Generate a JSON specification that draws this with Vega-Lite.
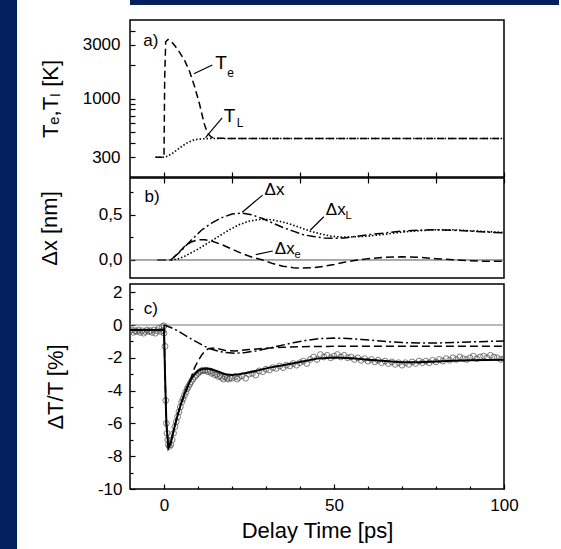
{
  "$schema": "https://vega.github.io/schema/vega-lite/v6.json",
  "background": "white",
  "padding": 0,
  "config": {
    "font": "Liberation Sans",
    "view": {"stroke": "black", "strokeWidth": 1.5},
    "axis": {"domain": false, "grid": false, "tickColor": "black", "tickWidth": 1.2, "labelFlush": false, "labelFont": "Liberation Sans", "labelFontSize": 17, "labelColor": "black", "titleFont": "Liberation Sans", "titleFontSize": 22, "titleFontWeight": "normal", "titleColor": "black"},
    "text": {"font": "Liberation Sans", "color": "black"}
  },
  "datasets": {
    "temp": [
      {"s": "Te", "t": -2.5, "v": 300}, {"s": "Te", "t": 0, "v": 300}, {"s": "Te", "t": 0.2, "v": 1500}, {"s": "Te", "t": 0.5, "v": 3200}, {"s": "Te", "t": 1.2, "v": 3350}, {"s": "Te", "t": 2.2, "v": 3200}, {"s": "Te", "t": 3.2, "v": 2950}, {"s": "Te", "t": 4.5, "v": 2600}, {"s": "Te", "t": 6, "v": 2200}, {"s": "Te", "t": 7.5, "v": 1750}, {"s": "Te", "t": 9, "v": 1280}, {"s": "Te", "t": 10.5, "v": 880}, {"s": "Te", "t": 11.8, "v": 600}, {"s": "Te", "t": 12.8, "v": 490}, {"s": "Te", "t": 14, "v": 452}, {"s": "Te", "t": 16, "v": 443}, {"s": "Te", "t": 20, "v": 440}, {"s": "Te", "t": 100, "v": 440},
      {"s": "TL", "t": -2.5, "v": 300}, {"s": "TL", "t": 0, "v": 300}, {"s": "TL", "t": 1, "v": 306}, {"s": "TL", "t": 2.5, "v": 325}, {"s": "TL", "t": 4, "v": 352}, {"s": "TL", "t": 5.5, "v": 380}, {"s": "TL", "t": 7, "v": 405}, {"s": "TL", "t": 8.5, "v": 424}, {"s": "TL", "t": 10, "v": 434}, {"s": "TL", "t": 12, "v": 439}, {"s": "TL", "t": 15, "v": 441}, {"s": "TL", "t": 100, "v": 440}
    ],
    "disp": [
      {"s": "dx", "t": -2, "v": 0}, {"s": "dx", "t": 2, "v": 0}, {"s": "dx", "t": 5, "v": 0.1}, {"s": "dx", "t": 8, "v": 0.22}, {"s": "dx", "t": 11, "v": 0.33}, {"s": "dx", "t": 14, "v": 0.41}, {"s": "dx", "t": 17, "v": 0.47}, {"s": "dx", "t": 20, "v": 0.51}, {"s": "dx", "t": 23, "v": 0.52}, {"s": "dx", "t": 26, "v": 0.5}, {"s": "dx", "t": 29, "v": 0.46}, {"s": "dx", "t": 32, "v": 0.41}, {"s": "dx", "t": 35, "v": 0.36}, {"s": "dx", "t": 38, "v": 0.32}, {"s": "dx", "t": 41, "v": 0.28}, {"s": "dx", "t": 44, "v": 0.26}, {"s": "dx", "t": 47, "v": 0.245}, {"s": "dx", "t": 50, "v": 0.24}, {"s": "dx", "t": 53, "v": 0.245}, {"s": "dx", "t": 56, "v": 0.26}, {"s": "dx", "t": 60, "v": 0.28}, {"s": "dx", "t": 65, "v": 0.3}, {"s": "dx", "t": 70, "v": 0.32}, {"s": "dx", "t": 75, "v": 0.33}, {"s": "dx", "t": 80, "v": 0.335}, {"s": "dx", "t": 85, "v": 0.33}, {"s": "dx", "t": 90, "v": 0.32}, {"s": "dx", "t": 95, "v": 0.31}, {"s": "dx", "t": 100, "v": 0.3},
      {"s": "dxL", "t": 2, "v": 0}, {"s": "dxL", "t": 4, "v": 0.01}, {"s": "dxL", "t": 6, "v": 0.04}, {"s": "dxL", "t": 8, "v": 0.08}, {"s": "dxL", "t": 10, "v": 0.12}, {"s": "dxL", "t": 13, "v": 0.19}, {"s": "dxL", "t": 16, "v": 0.26}, {"s": "dxL", "t": 19, "v": 0.33}, {"s": "dxL", "t": 22, "v": 0.39}, {"s": "dxL", "t": 25, "v": 0.43}, {"s": "dxL", "t": 28, "v": 0.45}, {"s": "dxL", "t": 31, "v": 0.45}, {"s": "dxL", "t": 34, "v": 0.43}, {"s": "dxL", "t": 37, "v": 0.4}, {"s": "dxL", "t": 40, "v": 0.36}, {"s": "dxL", "t": 43, "v": 0.32}, {"s": "dxL", "t": 46, "v": 0.29}, {"s": "dxL", "t": 49, "v": 0.265}, {"s": "dxL", "t": 52, "v": 0.255}, {"s": "dxL", "t": 55, "v": 0.255}, {"s": "dxL", "t": 60, "v": 0.265}, {"s": "dxL", "t": 65, "v": 0.285}, {"s": "dxL", "t": 70, "v": 0.31}, {"s": "dxL", "t": 75, "v": 0.325}, {"s": "dxL", "t": 80, "v": 0.335}, {"s": "dxL", "t": 85, "v": 0.335}, {"s": "dxL", "t": 90, "v": 0.325}, {"s": "dxL", "t": 95, "v": 0.315}, {"s": "dxL", "t": 100, "v": 0.305},
      {"s": "dxe", "t": 2, "v": 0}, {"s": "dxe", "t": 4, "v": 0.07}, {"s": "dxe", "t": 6, "v": 0.15}, {"s": "dxe", "t": 8, "v": 0.2}, {"s": "dxe", "t": 10, "v": 0.225}, {"s": "dxe", "t": 12, "v": 0.225}, {"s": "dxe", "t": 14, "v": 0.21}, {"s": "dxe", "t": 17, "v": 0.17}, {"s": "dxe", "t": 20, "v": 0.12}, {"s": "dxe", "t": 23, "v": 0.07}, {"s": "dxe", "t": 26, "v": 0.03}, {"s": "dxe", "t": 29, "v": 0}, {"s": "dxe", "t": 32, "v": -0.04}, {"s": "dxe", "t": 35, "v": -0.07}, {"s": "dxe", "t": 38, "v": -0.085}, {"s": "dxe", "t": 41, "v": -0.09}, {"s": "dxe", "t": 44, "v": -0.085}, {"s": "dxe", "t": 47, "v": -0.07}, {"s": "dxe", "t": 50, "v": -0.05}, {"s": "dxe", "t": 53, "v": -0.025}, {"s": "dxe", "t": 56, "v": -0.005}, {"s": "dxe", "t": 60, "v": 0.015}, {"s": "dxe", "t": 65, "v": 0.03}, {"s": "dxe", "t": 70, "v": 0.035}, {"s": "dxe", "t": 75, "v": 0.03}, {"s": "dxe", "t": 80, "v": 0.015}, {"s": "dxe", "t": 85, "v": 0.003}, {"s": "dxe", "t": 90, "v": -0.008}, {"s": "dxe", "t": 95, "v": -0.015}, {"s": "dxe", "t": 100, "v": -0.015}
    ],
    "model": [
      {"s": "fit", "t": -10, "v": -0.3}, {"s": "fit", "t": 0, "v": -0.3}, {"s": "fit", "t": 0.3, "v": -3}, {"s": "fit", "t": 0.7, "v": -6}, {"s": "fit", "t": 1.3, "v": -7.5}, {"s": "fit", "t": 2, "v": -7.2}, {"s": "fit", "t": 3, "v": -6.3}, {"s": "fit", "t": 4, "v": -5.5}, {"s": "fit", "t": 5, "v": -4.8}, {"s": "fit", "t": 6, "v": -4.2}, {"s": "fit", "t": 7, "v": -3.7}, {"s": "fit", "t": 8, "v": -3.3}, {"s": "fit", "t": 9, "v": -3.0}, {"s": "fit", "t": 10, "v": -2.8}, {"s": "fit", "t": 11, "v": -2.7}, {"s": "fit", "t": 12.5, "v": -2.65}, {"s": "fit", "t": 14, "v": -2.7}, {"s": "fit", "t": 16, "v": -2.85}, {"s": "fit", "t": 18, "v": -3.0}, {"s": "fit", "t": 20, "v": -3.05}, {"s": "fit", "t": 22, "v": -3.0}, {"s": "fit", "t": 25, "v": -2.9}, {"s": "fit", "t": 28, "v": -2.75}, {"s": "fit", "t": 31, "v": -2.6}, {"s": "fit", "t": 35, "v": -2.45}, {"s": "fit", "t": 40, "v": -2.25}, {"s": "fit", "t": 45, "v": -2.05}, {"s": "fit", "t": 50, "v": -1.98}, {"s": "fit", "t": 55, "v": -2.02}, {"s": "fit", "t": 60, "v": -2.12}, {"s": "fit", "t": 65, "v": -2.2}, {"s": "fit", "t": 70, "v": -2.27}, {"s": "fit", "t": 75, "v": -2.27}, {"s": "fit", "t": 80, "v": -2.22}, {"s": "fit", "t": 85, "v": -2.18}, {"s": "fit", "t": 90, "v": -2.15}, {"s": "fit", "t": 95, "v": -2.13}, {"s": "fit", "t": 100, "v": -2.12},
      {"s": "e", "t": 0, "v": 0}, {"s": "e", "t": 0.3, "v": -3}, {"s": "e", "t": 0.7, "v": -6}, {"s": "e", "t": 1.3, "v": -7.45}, {"s": "e", "t": 2, "v": -7.15}, {"s": "e", "t": 3, "v": -6.3}, {"s": "e", "t": 4, "v": -5.5}, {"s": "e", "t": 5, "v": -4.8}, {"s": "e", "t": 6, "v": -4.3}, {"s": "e", "t": 7, "v": -3.8}, {"s": "e", "t": 8, "v": -3.2}, {"s": "e", "t": 9, "v": -2.6}, {"s": "e", "t": 10, "v": -2.2}, {"s": "e", "t": 11, "v": -1.85}, {"s": "e", "t": 12, "v": -1.6}, {"s": "e", "t": 13, "v": -1.45}, {"s": "e", "t": 15, "v": -1.4}, {"s": "e", "t": 18, "v": -1.55}, {"s": "e", "t": 21, "v": -1.58}, {"s": "e", "t": 25, "v": -1.5}, {"s": "e", "t": 30, "v": -1.42}, {"s": "e", "t": 35, "v": -1.36}, {"s": "e", "t": 40, "v": -1.32}, {"s": "e", "t": 50, "v": -1.3}, {"s": "e", "t": 60, "v": -1.3}, {"s": "e", "t": 100, "v": -1.3},
      {"s": "L", "t": 0, "v": 0}, {"s": "L", "t": 2, "v": -0.15}, {"s": "L", "t": 4, "v": -0.35}, {"s": "L", "t": 6, "v": -0.6}, {"s": "L", "t": 8, "v": -0.85}, {"s": "L", "t": 10, "v": -1.08}, {"s": "L", "t": 12, "v": -1.3}, {"s": "L", "t": 14, "v": -1.48}, {"s": "L", "t": 16, "v": -1.6}, {"s": "L", "t": 18, "v": -1.68}, {"s": "L", "t": 21, "v": -1.72}, {"s": "L", "t": 24, "v": -1.68}, {"s": "L", "t": 27, "v": -1.58}, {"s": "L", "t": 30, "v": -1.45}, {"s": "L", "t": 34, "v": -1.27}, {"s": "L", "t": 38, "v": -1.08}, {"s": "L", "t": 42, "v": -0.93}, {"s": "L", "t": 46, "v": -0.83}, {"s": "L", "t": 50, "v": -0.8}, {"s": "L", "t": 54, "v": -0.82}, {"s": "L", "t": 58, "v": -0.88}, {"s": "L", "t": 62, "v": -0.95}, {"s": "L", "t": 66, "v": -1.02}, {"s": "L", "t": 70, "v": -1.07}, {"s": "L", "t": 75, "v": -1.1}, {"s": "L", "t": 80, "v": -1.1}, {"s": "L", "t": 85, "v": -1.07}, {"s": "L", "t": 90, "v": -1.03}, {"s": "L", "t": 95, "v": -1.0}, {"s": "L", "t": 100, "v": -0.97}
    ],
    "meas": [
      {"t": -10, "v": -0.35}, {"t": -9.5, "v": -0.3}, {"t": -9, "v": -0.45}, {"t": -8.5, "v": -0.35}, {"t": -8, "v": -0.4}, {"t": -7.5, "v": -0.3}, {"t": -7, "v": -0.45}, {"t": -6.5, "v": -0.35}, {"t": -6, "v": -0.5}, {"t": -5.5, "v": -0.4}, {"t": -5, "v": -0.3}, {"t": -4.5, "v": -0.4}, {"t": -4, "v": -0.35}, {"t": -3.5, "v": -0.45}, {"t": -3, "v": -0.3}, {"t": -2.5, "v": -0.5}, {"t": -2, "v": -0.35}, {"t": -1.5, "v": -0.2}, {"t": -1, "v": -0.4}, {"t": -0.5, "v": -0.1}, {"t": -0.3, "v": -0.35}, {"t": 0, "v": -0.05}, {"t": 0, "v": -0.5},
      {"t": 0.3, "v": -1.3}, {"t": 0.5, "v": -4.6}, {"t": 0.7, "v": -6.0}, {"t": 0.9, "v": -6.6}, {"t": 1.1, "v": -7.0}, {"t": 1.3, "v": -7.3}, {"t": 1.6, "v": -7.4}, {"t": 2.0, "v": -7.3}, {"t": 2.4, "v": -7.0}, {"t": 2.8, "v": -6.6}, {"t": 3.2, "v": -6.2}, {"t": 3.6, "v": -5.9}, {"t": 4.0, "v": -5.6}, {"t": 4.4, "v": -5.3}, {"t": 4.8, "v": -5.0}, {"t": 5.2, "v": -4.7}, {"t": 5.6, "v": -4.5}, {"t": 6.0, "v": -4.3}, {"t": 6.4, "v": -4.1}, {"t": 6.8, "v": -3.9}, {"t": 7.2, "v": -3.75}, {"t": 7.6, "v": -3.6}, {"t": 8.0, "v": -3.45}, {"t": 8.5, "v": -3.3}, {"t": 9.0, "v": -3.15}, {"t": 9.5, "v": -3.05}, {"t": 10, "v": -2.95}, {"t": 10.5, "v": -2.85}, {"t": 11, "v": -2.8}, {"t": 11.5, "v": -2.75}, {"t": 12, "v": -2.8}, {"t": 12.5, "v": -2.75}, {"t": 13, "v": -2.85}, {"t": 13.5, "v": -2.8}, {"t": 14, "v": -2.95}, {"t": 14.5, "v": -2.9}, {"t": 15, "v": -3.05}, {"t": 15.5, "v": -3.0}, {"t": 16, "v": -3.15}, {"t": 16.5, "v": -3.1}, {"t": 17, "v": -3.2}, {"t": 17.5, "v": -3.3}, {"t": 18, "v": -3.15}, {"t": 18.5, "v": -3.25}, {"t": 19, "v": -3.3}, {"t": 19.5, "v": -3.2}, {"t": 20, "v": -3.25}, {"t": 21, "v": -3.15}, {"t": 21.5, "v": -3.3}, {"t": 22, "v": -3.2}, {"t": 23, "v": -3.1}, {"t": 24, "v": -3.25}, {"t": 25, "v": -3.0}, {"t": 26, "v": -2.95}, {"t": 27, "v": -3.05}, {"t": 28, "v": -2.8}, {"t": 29, "v": -2.85}, {"t": 30, "v": -2.7}, {"t": 31, "v": -2.75}, {"t": 32, "v": -2.6}, {"t": 33, "v": -2.65}, {"t": 34, "v": -2.5}, {"t": 35, "v": -2.6}, {"t": 36, "v": -2.45}, {"t": 37, "v": -2.5}, {"t": 38, "v": -2.35}, {"t": 39, "v": -2.45}, {"t": 40, "v": -2.3}, {"t": 41, "v": -2.2}, {"t": 42, "v": -2.35}, {"t": 43, "v": -2.1}, {"t": 44, "v": -1.95}, {"t": 45, "v": -2.1}, {"t": 46, "v": -1.8}, {"t": 47, "v": -1.95}, {"t": 48, "v": -1.85}, {"t": 49, "v": -2.0}, {"t": 50, "v": -1.9}, {"t": 51, "v": -1.8}, {"t": 52, "v": -1.95}, {"t": 53, "v": -1.85}, {"t": 54, "v": -2.0}, {"t": 55, "v": -1.95}, {"t": 56, "v": -2.1}, {"t": 57, "v": -2.0}, {"t": 58, "v": -2.15}, {"t": 59, "v": -2.05}, {"t": 60, "v": -2.2}, {"t": 61, "v": -2.1}, {"t": 62, "v": -2.25}, {"t": 63, "v": -2.15}, {"t": 64, "v": -2.3}, {"t": 65, "v": -2.2}, {"t": 66, "v": -2.35}, {"t": 67, "v": -2.25}, {"t": 68, "v": -2.4}, {"t": 69, "v": -2.3}, {"t": 70, "v": -2.45}, {"t": 71, "v": -2.3}, {"t": 72, "v": -2.4}, {"t": 73, "v": -2.25}, {"t": 74, "v": -2.35}, {"t": 75, "v": -2.2}, {"t": 76, "v": -2.3}, {"t": 77, "v": -2.2}, {"t": 78, "v": -2.3}, {"t": 79, "v": -2.15}, {"t": 80, "v": -2.25}, {"t": 81, "v": -2.1}, {"t": 82, "v": -2.2}, {"t": 83, "v": -2.05}, {"t": 84, "v": -2.15}, {"t": 85, "v": -2.0}, {"t": 86, "v": -2.1}, {"t": 87, "v": -1.95}, {"t": 88, "v": -2.05}, {"t": 89, "v": -2.1}, {"t": 90, "v": -2.0}, {"t": 91, "v": -1.9}, {"t": 92, "v": -2.05}, {"t": 93, "v": -1.95}, {"t": 94, "v": -1.9}, {"t": 95, "v": -2.0}, {"t": 96, "v": -1.85}, {"t": 97, "v": -1.95}, {"t": 98, "v": -2.0}, {"t": 99, "v": -2.1}, {"t": 100, "v": -2.05}
    ]
  },
  "spacing": 20,
  "hconcat": [
    {
      "width": 17, "height": 549,
      "data": {"values": []},
      "mark": "point",
      "view": {"fill": "#03215f", "stroke": null}
    },
    {
      "spacing": 0,
      "bounds": "flush",
      "vconcat": [
        {
          "width": 429, "height": 5,
          "data": {"values": []},
          "mark": "point",
          "view": {"fill": "#03215f", "stroke": null}
        },
        {
          "width": 374, "height": 15,
          "data": {"values": []},
          "mark": "point",
          "view": {"stroke": null}
        },
        {
          "width": 374, "height": 157,
          "layer": [
            {
              "data": {"name": "temp"},
              "transform": [{"filter": "datum.s == 'Te'"}],
              "mark": {"type": "line", "color": "black", "strokeWidth": 1.5, "strokeDash": [7, 4], "clip": true},
              "encoding": {
                "x": {"field": "t", "type": "quantitative", "scale": {"domain": [-10, 100], "nice": false, "zero": false},
                      "axis": {"orient": "bottom", "values": [0, 10, 20, 30, 40, 50, 60, 70, 80, 90, 100], "labels": false, "title": null, "tickSize": -5}},
                "y": {"field": "v", "type": "quantitative", "scale": {"type": "log", "domain": [200, 5000], "nice": false},
                      "axis": {"title": "Tₑ,Tₗ [K]", "titlePadding": 20, "labelPadding": 15, "tickSize": -5,
                               "values": [300, 400, 500, 600, 700, 800, 900, 1000, 2000, 3000, 4000],
                               "labelExpr": "(datum.value == 300 || datum.value == 1000 || datum.value == 3000) ? '' + datum.value : ''"}}
              }
            },
            {
              "data": {"name": "temp"},
              "transform": [{"filter": "datum.s == 'TL'"}],
              "mark": {"type": "line", "color": "black", "strokeWidth": 1.6, "strokeDash": [1.5, 2], "clip": true},
              "encoding": {
                "x": {"field": "t", "type": "quantitative"},
                "y": {"field": "v", "type": "quantitative"}
              }
            },
            {"data": {"values": [{}]}, "mark": {"type": "text", "text": "a)", "fontSize": 17},
             "encoding": {"x": {"datum": -3.9}, "y": {"datum": 3220}}},
            {"data": {"values": [{}]}, "mark": {"type": "rule", "color": "black", "strokeWidth": 1.2},
             "encoding": {"x": {"datum": 8.8}, "y": {"datum": 1660}, "x2": {"datum": 14.2}, "y2": {"datum": 1990}}},
            {"data": {"values": [{}]}, "mark": {"type": "text", "text": "T", "fontSize": 19},
             "encoding": {"x": {"datum": 16.8}, "y": {"datum": 2050}}},
            {"data": {"values": [{}]}, "mark": {"type": "text", "text": "e", "fontSize": 12},
             "encoding": {"x": {"datum": 19.6}, "y": {"datum": 1680}}},
            {"data": {"values": [{}]}, "mark": {"type": "rule", "color": "black", "strokeWidth": 1.2},
             "encoding": {"x": {"datum": 12.2}, "y": {"datum": 449}, "x2": {"datum": 17.1}, "y2": {"datum": 673}}},
            {"data": {"values": [{}]}, "mark": {"type": "text", "text": "T", "fontSize": 19},
             "encoding": {"x": {"datum": 19.3}, "y": {"datum": 700}}},
            {"data": {"values": [{}]}, "mark": {"type": "text", "text": "L", "fontSize": 12},
             "encoding": {"x": {"datum": 22.4}, "y": {"datum": 600}}}
          ]
        },
        {
          "width": 374, "height": 1,
          "data": {"values": []},
          "mark": "point",
          "view": {"stroke": null}
        },
        {
          "width": 374, "height": 100,
          "resolve": {"axis": {"y": "independent"}},
          "layer": [
            {
              "data": {"name": "disp"},
              "transform": [{"filter": "datum.s == 'dx'"}],
              "mark": {"type": "line", "color": "black", "strokeWidth": 1.5, "strokeDash": [9, 3, 2, 3], "clip": true},
              "encoding": {
                "x": {"field": "t", "type": "quantitative", "scale": {"domain": [-10, 100], "nice": false, "zero": false},
                      "axis": {"orient": "top", "values": [0, 10, 20, 30, 40, 50, 60, 70, 80, 90, 100], "labels": false, "title": null, "tickSize": -5}},
                "y": {"field": "v", "type": "quantitative", "scale": {"domain": [-0.2, 0.91], "nice": false, "zero": false},
                      "axis": {"orient": "left", "title": "Δx [nm]", "titlePadding": 37, "labelPadding": 13, "tickSize": -5,
                               "values": [0, 0.5],
                               "labelExpr": "datum.value == 0 ? '0,0' : '0,5'"}}
              }
            },
            {"data": {"values": [{}]}, "mark": {"type": "rule", "color": "#555", "strokeWidth": 1},
             "encoding": {"y": {"datum": 0, "axis": {"orient": "left", "values": [0.25, 0.75], "labels": false, "title": null, "tickSize": -3}}}},
            {
              "data": {"name": "disp"},
              "transform": [{"filter": "datum.s == 'dxL'"}],
              "mark": {"type": "line", "color": "black", "strokeWidth": 1.6, "strokeDash": [1.5, 2], "clip": true},
              "encoding": {"x": {"field": "t", "type": "quantitative"}, "y": {"field": "v", "type": "quantitative", "axis": null}}
            },
            {
              "data": {"name": "disp"},
              "transform": [{"filter": "datum.s == 'dxe'"}],
              "mark": {"type": "line", "color": "black", "strokeWidth": 1.5, "strokeDash": [8, 4], "clip": true},
              "encoding": {"x": {"field": "t", "type": "quantitative"}, "y": {"field": "v", "type": "quantitative", "axis": null}}
            },
            {"data": {"values": [{}]}, "mark": {"type": "text", "text": "b)", "fontSize": 17},
             "encoding": {"x": {"datum": -3.5}, "y": {"datum": 0.7, "axis": null}}},
            {"data": {"values": [{}]}, "mark": {"type": "rule", "color": "black", "strokeWidth": 1.2},
             "encoding": {"x": {"datum": 23}, "y": {"datum": 0.53, "axis": null}, "x2": {"datum": 29}, "y2": {"datum": 0.72}}},
            {"data": {"values": [{}]}, "mark": {"type": "text", "text": "Δx", "fontSize": 17},
             "encoding": {"x": {"datum": 32.5}, "y": {"datum": 0.78, "axis": null}}},
            {"data": {"values": [{}]}, "mark": {"type": "rule", "color": "black", "strokeWidth": 1.2},
             "encoding": {"x": {"datum": 43}, "y": {"datum": 0.33, "axis": null}, "x2": {"datum": 47}, "y2": {"datum": 0.48}}},
            {"data": {"values": [{}]}, "mark": {"type": "text", "text": "Δx", "fontSize": 17},
             "encoding": {"x": {"datum": 50.5}, "y": {"datum": 0.56, "axis": null}}},
            {"data": {"values": [{}]}, "mark": {"type": "text", "text": "L", "fontSize": 11},
             "encoding": {"x": {"datum": 54.3}, "y": {"datum": 0.49, "axis": null}}},
            {"data": {"values": [{}]}, "mark": {"type": "rule", "color": "black", "strokeWidth": 1.2},
             "encoding": {"x": {"datum": 27}, "y": {"datum": 0.06, "axis": null}, "x2": {"datum": 32}, "y2": {"datum": 0.1}}},
            {"data": {"values": [{}]}, "mark": {"type": "text", "text": "Δx", "fontSize": 17},
             "encoding": {"x": {"datum": 35.5}, "y": {"datum": 0.12, "axis": null}}},
            {"data": {"values": [{}]}, "mark": {"type": "text", "text": "e", "fontSize": 11},
             "encoding": {"x": {"datum": 39.3}, "y": {"datum": 0.05, "axis": null}}}
          ]
        },
        {
          "width": 374, "height": 6,
          "data": {"values": []},
          "mark": "point",
          "view": {"stroke": null}
        },
        {
          "width": 374, "height": 205,
          "resolve": {"axis": {"x": "independent", "y": "independent"}},
          "layer": [
            {
              "data": {"name": "meas"},
              "mark": {"type": "point", "filled": false, "color": "#444", "size": 34, "strokeWidth": 1, "clip": true},
              "encoding": {
                "x": {"field": "t", "type": "quantitative", "scale": {"domain": [-10, 100], "nice": false, "zero": false},
                      "axis": {"orient": "bottom", "values": [0, 100],
                               "labelExpr": "'' + datum.value", "labelPadding": 13,
                               "title": "Delay Time [ps]", "titlePadding": 7, "tickSize": -5}},
                "y": {"field": "v", "type": "quantitative", "scale": {"domain": [-10, 2.5], "nice": false, "zero": false},
                      "axis": {"orient": "left", "title": "ΔT/T [%]", "titlePadding": 30, "labelPadding": 13, "tickSize": -5,
                               "values": [-10, -8],
                               "labelExpr": "'' + datum.value"}}
              }
            },
            {"data": {"values": [{}]}, "mark": {"type": "rule", "color": "#777", "strokeWidth": 1},
             "encoding": {"y": {"datum": 0, "axis": {"orient": "left", "values": [-6, -4], "labelExpr": "'' + datum.value", "labelPadding": 13, "tickSize": -5, "title": null}}}},
            {
              "data": {"name": "model"},
              "transform": [{"filter": "datum.s == 'fit'"}],
              "mark": {"type": "line", "color": "black", "strokeWidth": 2, "clip": true},
              "encoding": {
                "x": {"field": "t", "type": "quantitative", "axis": {"orient": "bottom", "values": [50], "labelExpr": "'' + datum.value", "labelPadding": 13, "tickSize": -5, "title": null}},
                "y": {"field": "v", "type": "quantitative", "axis": {"orient": "left", "values": [-2, 0], "labelExpr": "'' + datum.value", "labelPadding": 13, "tickSize": -5, "title": null}}
              }
            },
            {
              "data": {"name": "model"},
              "transform": [{"filter": "datum.s == 'e'"}],
              "mark": {"type": "line", "color": "black", "strokeWidth": 1.5, "strokeDash": [8, 4], "clip": true},
              "encoding": {
                "x": {"field": "t", "type": "quantitative", "axis": {"orient": "bottom", "values": [10, 20, 30, 40, 60, 70, 80, 90], "labels": false, "tickSize": -3, "title": null}},
                "y": {"field": "v", "type": "quantitative", "axis": {"orient": "left", "values": [2], "labelExpr": "'' + datum.value", "labelPadding": 13, "tickSize": -5, "title": null}}
              }
            },
            {
              "data": {"name": "model"},
              "transform": [{"filter": "datum.s == 'L'"}],
              "mark": {"type": "line", "color": "black", "strokeWidth": 1.5, "strokeDash": [9, 3, 2, 3], "clip": true},
              "encoding": {
                "x": {"field": "t", "type": "quantitative", "axis": null},
                "y": {"field": "v", "type": "quantitative", "axis": {"orient": "left", "values": [-9, -7, -5, -3, -1, 1], "labels": false, "tickSize": -3, "title": null}}
              }
            },
            {"data": {"values": [{}]}, "mark": {"type": "text", "text": "c)", "fontSize": 17},
             "encoding": {"x": {"datum": -3.9, "axis": null}, "y": {"datum": 0.97, "axis": null}}}
          ]
        }
      ]
    }
  ]
}
